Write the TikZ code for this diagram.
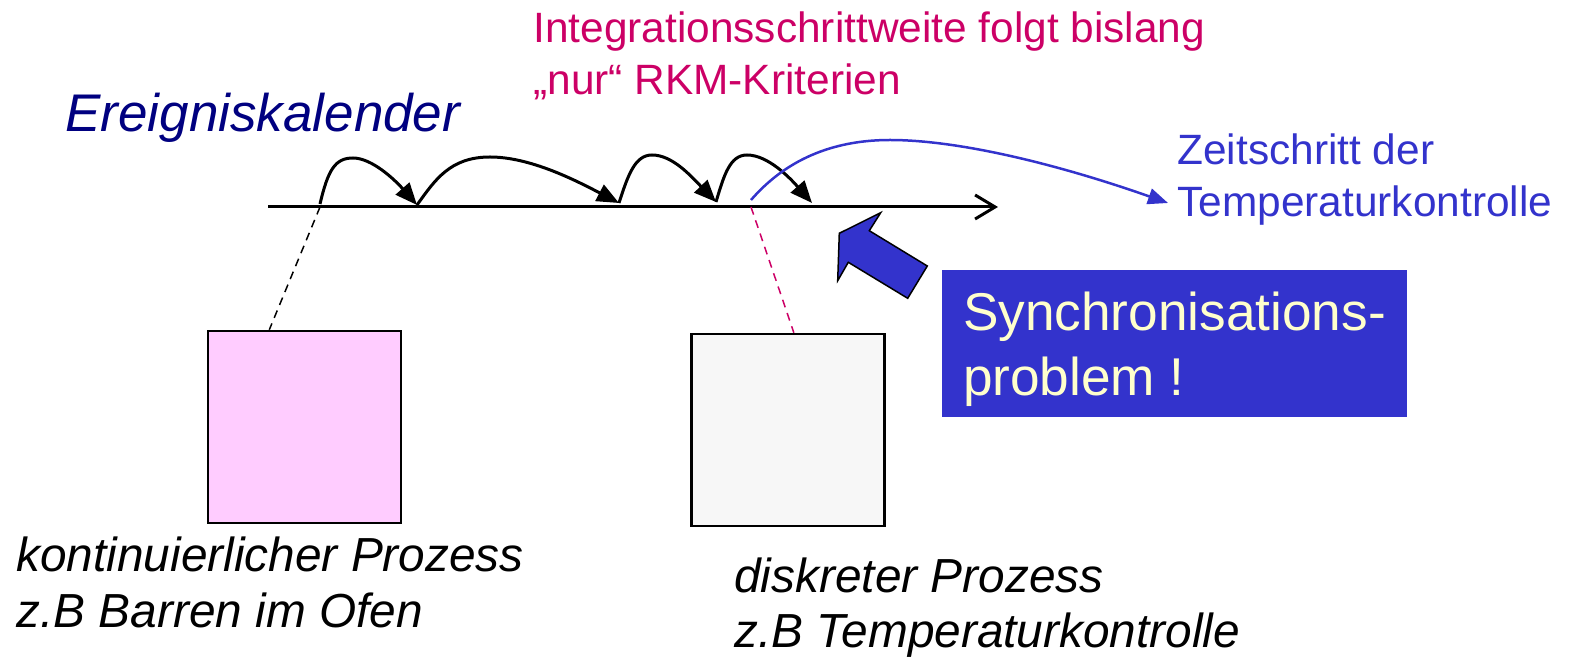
\documentclass[tikz,border=0pt]{standalone}
\usepackage{fontspec}
\setmainfont{Liberation Sans}
\usetikzlibrary{arrows.meta,calc}
\definecolor{navy}{RGB}{0,0,128}
\definecolor{rkmpink}{RGB}{204,0,102}
\definecolor{sblue}{RGB}{51,51,204}
\definecolor{cream}{RGB}{255,255,204}
\definecolor{procpink}{RGB}{255,204,255}
\definecolor{procgray}{RGB}{247,247,247}

\begin{document}
\begin{tikzpicture}[x=0.5pt, y=-0.5pt,
	every node/.style={inner sep=0pt, align=left, anchor=base west},
	proc/.style={draw, line width=1.25pt, minimum width=96.5pt, minimum height=96pt, anchor=center},
	hop/.style={line width=1.5pt, -{Triangle[length=11pt, width=9pt]}},
	link/.style={dashed, dash pattern=on 4pt off 3pt, line width=0.75pt}]
	\useasboundingbox (0,0) rectangle (1571,657);
	% time axis
	\coordinate (t0) at (268,207);
	\coordinate (t1) at (998,207);
	\draw[line width=1.5pt, -{Straight Barb[length=10pt, width=12pt]}] (t0) -- (t1);
	% events and steps
	\coordinate (e1) at (320,204);
	\coordinate (e2) at (417,205);
	\coordinate (e3) at (619,203);
	\coordinate (e4) at (716,202);
	\coordinate (e5) at (812,203);
	\draw[hop] (e1) .. controls (328,170) and (335,158) .. (353,158) .. controls (372,158) and (395,180) .. (e2);
	\draw[hop] (e2) .. controls (435,180) and (450,157) .. (490,157) .. controls (530,157) and (575,180) .. (e3);
	\draw[hop] (e3) .. controls (628,175) and (635,155) .. (652,155) .. controls (672,155) and (690,175) .. (e4);
	\draw[hop] (e4) .. controls (724,175) and (730,155) .. (747,155) .. controls (768,155) and (790,178) .. (e5);
	% step of the controller
	\coordinate (z0) at (751,200);
	\coordinate (z1) at (1168,203);
	\draw[sblue, line width=1.25pt, -{Triangle[length=10pt, width=8pt]}] (z0) .. controls (790,155) and (840,140) .. (890,140) .. controls (960,140) and (1060,165) .. (z1);
	% processes
	\node[proc, fill=procpink] (kont) at (304.5,427) {};
	\node[proc, fill=procgray] (disk) at (788,430) {};
	\draw[link] (e1 |- t0) -- ($(kont.north west)!0.32!(kont.north east)$);
	\draw[link, rkmpink] (z0 |- t0) -- ($(disk.north west)!0.53!(disk.north east)$);
	% problem
	\filldraw[fill=sblue, draw=black, line width=0.75pt] (880.7,212.7) -- (869.3,230.7) -- (927.3,266) -- (907.7,298.3) -- (848.3,262.3) -- (837.7,280.7) -- (839.3,233.3) -- cycle;
	\node[fill=sblue, text=cream, anchor=north west, minimum width=231pt, minimum height=73.5pt, inner xsep=10.5pt, text depth=0pt, font=\fontsize{26.6}{32.5}\selectfont] (sync) at (941.7,270) {Synchronisations-\\problem !};
	% labels
	\node[text=navy, font=\fontsize{26.5}{30}\selectfont\itshape] (kal) at (65,132) {Ereigniskalender};
	\node[text=rkmpink, font=\fontsize{21.2}{26}\selectfont] (rkm) at (533,95) {Integrationsschrittweite folgt bislang\\„nur“ RKM-Kriterien};
	\node[text=sblue, font=\fontsize{21.2}{26}\selectfont] (zeit) at (1177,217) {Zeitschritt der\\Temperaturkontrolle};
	\node[font=\fontsize{23.9}{28}\selectfont\itshape] (kontlbl) at (16,628) {kontinuierlicher Prozess\\z.B Barren im Ofen};
	\node[font=\fontsize{23.9}{28}\selectfont\itshape] (disklbl) at (734,648) {diskreter Prozess\\z.B Temperaturkontrolle};
\end{tikzpicture}
\end{document}
